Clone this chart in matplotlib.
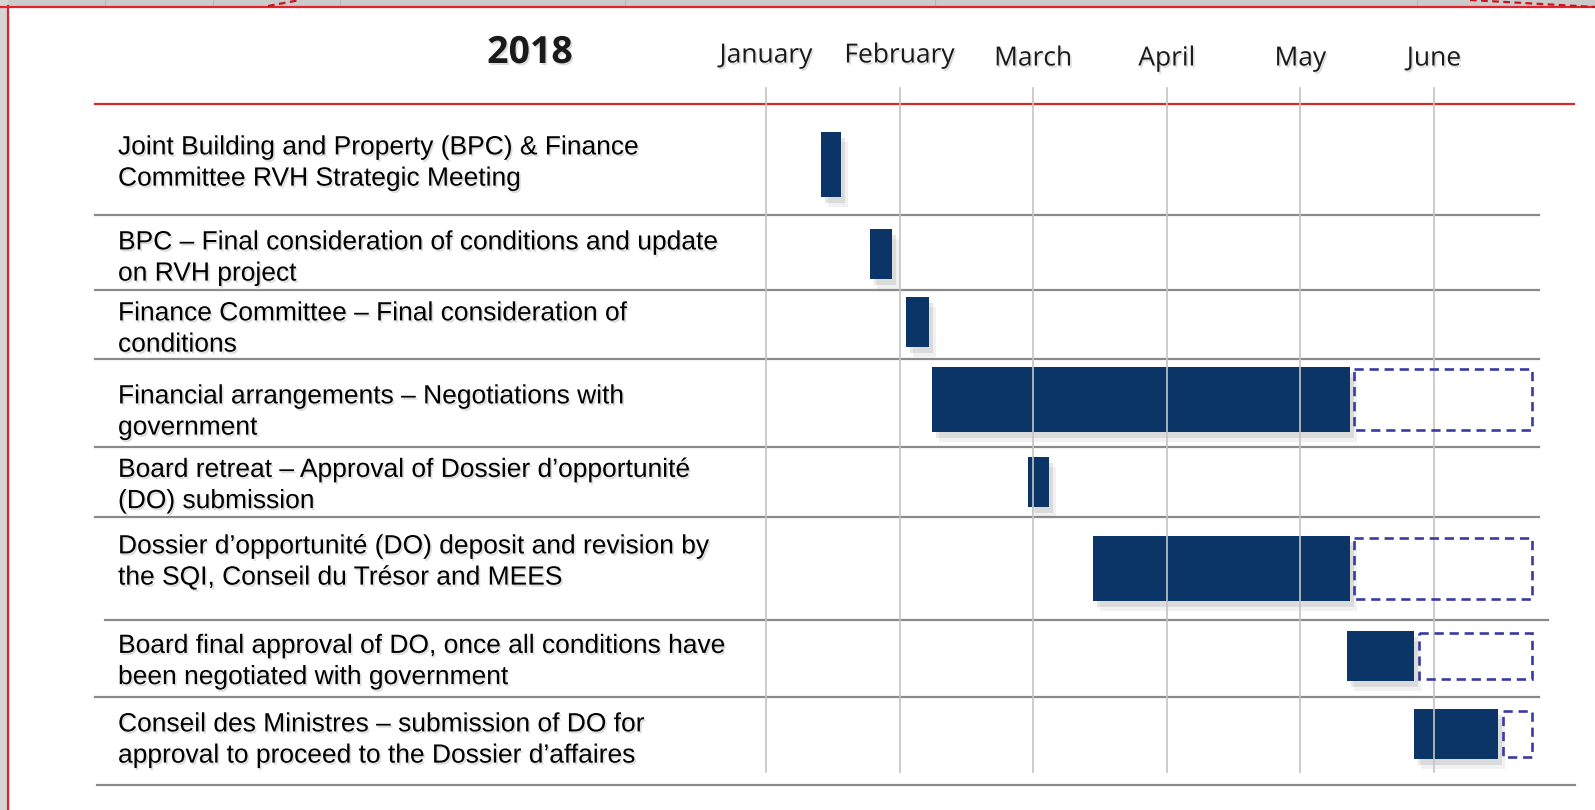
import matplotlib
matplotlib.use("Agg")
import matplotlib.pyplot as plt
from matplotlib.patches import Rectangle
import matplotlib.patheffects as pe

# --- data ---
year = "2018"
months = ["January", "February", "March", "April", "May", "June"]
tasks = [
    "Joint Building and Property (BPC) & Finance\nCommittee RVH Strategic Meeting",
    "BPC \u2013 Final consideration of conditions and update\non RVH project",
    "Finance Committee \u2013 Final consideration of\nconditions",
    "Financial arrangements \u2013 Negotiations with\ngovernment",
    "Board retreat \u2013 Approval of Dossier d\u2019opportunit\u00e9\n(DO) submission",
    "Dossier d\u2019opportunit\u00e9 (DO) deposit and revision by\nthe SQI, Conseil du Tr\u00e9sor and MEES",
    "Board final approval of DO, once all conditions have\nbeen negotiated with government",
    "Conseil des Ministres \u2013 submission of DO for\napproval to proceed to the Dossier d\u2019affaires",
]
# in months from 1 January (0 = Jan, 1 = Feb, ...)
task_start = [0.41, 0.78, 1.05, 1.24, 1.96, 2.45, 4.35, 4.85]
task_end = [0.56, 0.94, 1.22, 4.37, 2.12, 4.37, 4.85, 5.48]
# possible extension (dashed)
ext_start = [None, None, None, 4.40, None, 4.40, 4.89, 5.52]
ext_end = [None, None, None, 5.73, None, 5.73, 5.73, 5.73]

# --- layout (pixels of the slide) ---
W, H = 1595, 810
x_jan, month_w = 766, 133.6
month_y = [56, 56, 59, 59, 59, 59]
row_mid = [164.5, 254, 322, 399.5, 482, 568.5, 656, 734]
row_h = [65, 50, 50, 65, 50, 65, 50, 50]
text_mid = [163, 258, 329, 412, 485.5, 562, 661.5, 740]
seps = [(215, 95, 1539), (290, 95, 1539), (359, 95, 1539), (447, 95, 1539),
        (517, 95, 1539), (620, 105, 1548), (697, 95, 1539), (785, 97, 1575)]

navy = "#0a3566"
dash_col = "#3a3aa3"

txt_shadow = [pe.withSimplePatchShadow(offset=(1.2, -1.5), shadow_rgbFace="#777777", alpha=0.25)]
bar_shadow = [pe.SimplePatchShadow(offset=(5, -7), shadow_rgbFace="#777777", alpha=0.10),
              pe.SimplePatchShadow(offset=(3, -4), shadow_rgbFace="#777777", alpha=0.18),
              pe.Normal()]

fig = plt.figure(figsize=(W / 100, H / 100), dpi=100)
bg = fig.add_axes([0, 0, 1, 1])
bg.set_xlim(0, W)
bg.set_ylim(H, 0)
bg.axis("off")

# window frame of the screenshot
bg.add_patch(Rectangle((0, 0), W, 6, color="#cbcbcb", zorder=0))
bg.add_patch(Rectangle((0, 0), 7, H, color="#d6d6d6", zorder=0))
for xv in [105, 213, 340, 625, 935, 1417]:
    bg.plot([xv, xv], [0, 5], color="#b5b5b5", lw=0.8, zorder=1)
bg.plot([0, W], [6.5, 6.5], color="#e3232c", lw=1.6, zorder=2)
bg.plot([8, 8], [6, H], color="#e3232c", lw=1.6, zorder=2)
bg.plot([268, 300], [6, 0], color="#c8141e", lw=1.6, ls=(0, (3, 2)), zorder=2)
bg.plot([1470, W], [0, 7], color="#c8141e", lw=1.6, ls=(0, (3, 2)), zorder=2)

# header
bg.text(530, 53, year, fontsize=27, fontweight="bold", family="Open Sans",
        color="#1a1a1a", ha="center", va="center", path_effects=txt_shadow)
bg.plot([95, 1574], [104, 104], color="#d42a2a", lw=1.6, zorder=3)

# row separators
for y, x0, x1 in seps:
    bg.plot([x0, x1], [y, y], color="#8a8a8a", lw=1.6, zorder=2)

# task labels
for t, ym in zip(tasks, text_mid):
    bg.text(118, ym, t, fontsize=19, family="Liberation Sans", color="black",
            ha="left", va="center", linespacing=1.38, path_effects=txt_shadow)

# gantt axes on top, x in months
ax = fig.add_axes([0, 0, 1, 1])
ax.set_xlim(-x_jan / month_w, (W - x_jan) / month_w)
ax.set_ylim(H, 0)
ax.axis("off")
ax.patch.set_alpha(0)

for i, m in enumerate(months):
    ax.plot([i, i], [88, 772], color="#c4c4c4", lw=1.2, zorder=3.5)
    ax.text(i, month_y[i], m, fontsize=19, family="Open Sans", color="#1a1a1a",
            ha="center", va="center", path_effects=txt_shadow)

for i in range(len(tasks)):
    y0 = row_mid[i] - row_h[i] / 2
    if ext_start[i] is not None:
        r = Rectangle((ext_start[i], y0 + 2), ext_end[i] - ext_start[i], row_h[i] - 4,
                      facecolor="none", edgecolor=dash_col, lw=1.9,
                      ls=(0, (3.5, 2.2)), zorder=4)
        ax.add_patch(r)
    r = Rectangle((task_start[i], y0), task_end[i] - task_start[i], row_h[i],
                  facecolor=navy, edgecolor="none", zorder=3, path_effects=bar_shadow)
    ax.add_patch(r)

fig.savefig("out.png", dpi=100)
